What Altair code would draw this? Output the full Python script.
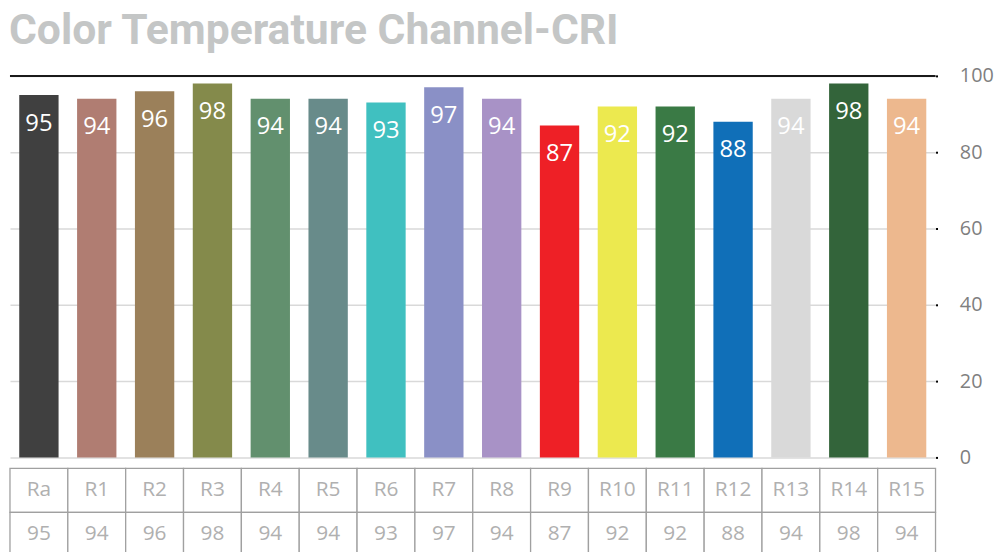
import altair as alt
import pandas as pd

categories = ["Ra", "R1", "R2", "R3", "R4", "R5", "R6", "R7",
              "R8", "R9", "R10", "R11", "R12", "R13", "R14", "R15"]
values = [95, 94, 96, 98, 94, 94, 93, 97, 94, 87, 92, 92, 88, 94, 98, 94]
colors = ["#404040", "#b07d72", "#9b805a", "#848a4b", "#62906e", "#688b8a",
          "#40c0c0", "#8a90c6", "#a892c6", "#ee2026", "#ece94f", "#3a7a45",
          "#106fb8", "#d9d9d9", "#33643a", "#edb88e"]
y_ticks = [0, 20, 40, 60, 80, 100]
title_text = "Color Temperature Channel-CRI"

W = 934
df = pd.DataFrame({"cat": categories, "val": values, "color": colors})

xscale = alt.Scale(domain=categories, paddingInner=0.32, paddingOuter=0.16)
base = alt.Chart(df)

bars = base.mark_bar().encode(
    x=alt.X("cat:N", scale=xscale, axis=None, sort=categories),
    y=alt.Y("val:Q", scale=alt.Scale(domain=[0, 100], nice=False),
            axis=alt.Axis(orient="right", values=y_ticks, grid=True,
                          gridColor="#d9d9d9", gridWidth=1.5, domain=False,
                          tickSize=2, tickColor="#000000", tickWidth=2,
                          labelPadding=22, labelFontSize=20,
                          labelColor="#7f7f7f", labelFont="Open Sans",
                          title=None)),
    color=alt.Color("color:N", scale=None),
)

labels = base.mark_text(color="white", fontSize=24, font="Open Sans",
                        baseline="middle", dy=29).encode(
    x=alt.X("cat:N", scale=xscale, axis=None, sort=categories),
    y=alt.Y("val:Q"),
    text=alt.Text("val:Q"),
)

top_rule = alt.Chart(pd.DataFrame({"y": [100]})).mark_rule(
    color="#1a1a1a", strokeWidth=2).encode(y="y:Q")

bar_chart = alt.layer(bars, labels, top_rule).properties(width=W, height=385)

rows = []
for c, v in zip(categories, values):
    rows.append({"cat": c, "row": 0, "text": c})
    rows.append({"cat": c, "row": 1, "text": str(v)})
tdf = pd.DataFrame(rows)

tx = alt.Scale(domain=categories, paddingInner=0, paddingOuter=0)
ty = alt.Scale(domain=[0, 1], paddingInner=0, paddingOuter=0)
tbase = alt.Chart(tdf)
cells = tbase.mark_rect(fill="white", stroke="#a0a0a0", strokeWidth=1.3).encode(
    x=alt.X("cat:N", scale=tx, axis=None, sort=categories),
    y=alt.Y("row:O", scale=ty, axis=None),
)
ttext = tbase.mark_text(fontSize=21, color="#b0b0b0",
                        font="'Liberation Sans Narrow', 'Open Sans', sans-serif",
                        baseline="middle").encode(
    x=alt.X("cat:N", scale=tx, axis=None, sort=categories),
    y=alt.Y("row:O", scale=ty, axis=None),
    text="text:N",
)
table = alt.layer(cells, ttext).properties(width=W, height=89)

chart = alt.vconcat(bar_chart, table, spacing=0).properties(
    title=alt.TitleParams(title_text, anchor="start", font="Roboto",
                          fontSize=43, fontWeight="bold", color="#c4c6c6",
                          offset=13),
    padding={"left": 1, "top": 0, "right": 0, "bottom": 0},
).configure_view(stroke=None)

chart.save("out.html", embed_options={"renderer": "svg", "actions": False})
